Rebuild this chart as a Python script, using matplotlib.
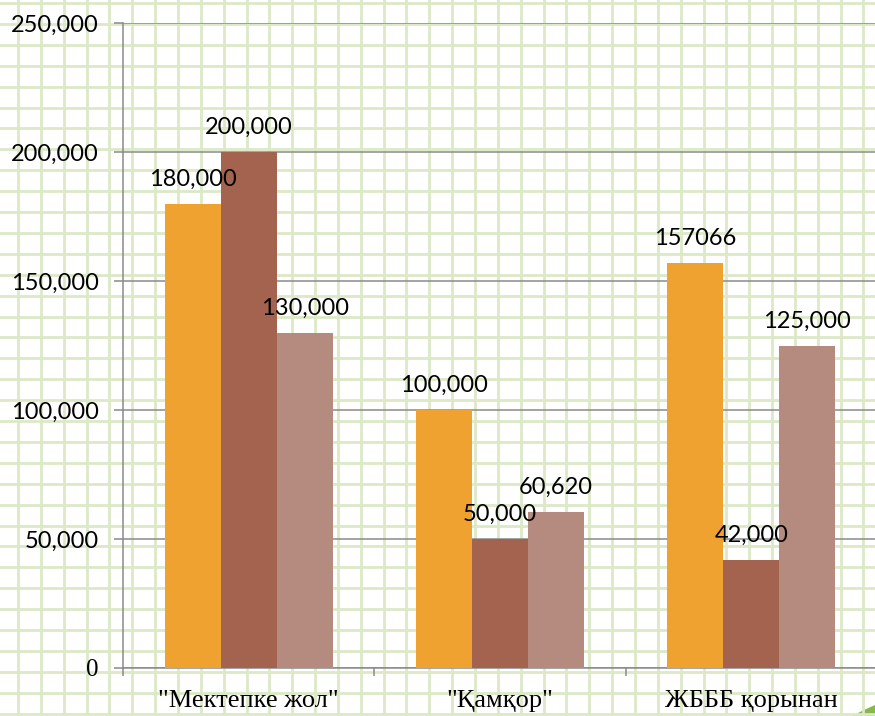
import matplotlib
matplotlib.use("Agg")
import matplotlib.pyplot as plt
import numpy as np
from matplotlib.patches import Polygon

# data
categories = ['"Мектепке жол"', '"Қамқор"', 'ЖБББ қорынан']
series_a = [180000, 100000, 157066]
series_b = [200000, 50000, 42000]
series_c = [130000, 60620, 125000]
labels_a = ["180,000", "100,000", "157066"]
labels_b = ["200,000", "50,000", "42,000"]
labels_c = ["130,000", "60,620", "125,000"]
yticks = [0, 50000, 100000, 150000, 200000, 250000]
ytick_labels = ["0", "50,000", "100,000", "150,000", "200,000", "250,000"]

colors = ["#EFA22F", "#A4634E", "#B58A7F"]
grey = "#8a8a8a"

W, H = 875, 716
fig = plt.figure(figsize=(W / 100, H / 100), dpi=100)
fig.patch.set_facecolor("white")

# graph-paper background
bg = fig.add_axes([0, 0, 1, 1], zorder=-5)
bg.set_xlim(0, W)
bg.set_ylim(H, 0)
bg.axis("off")
for x in np.arange(18 - 22.85, W + 23, 22.85):
    bg.axvline(x, color="#dde8c6", lw=2.0)
for y in np.arange(3, H + 21, 20.9):
    bg.axhline(y, color="#dde8c6", lw=2.0)
# bit of the slide decoration in the bottom-right corner
bg.add_patch(Polygon([(852, 716), (864, 710), (875, 705), (875, 716)], closed=True,
                     facecolor="#86b84a", edgecolor="none"))

ax = fig.add_axes([123 / W, 48 / H, (877 - 123) / W, (668 - 23) / H])
ax.patch.set_alpha(0)

x = np.arange(len(categories))
w = 0.223
b1 = ax.bar(x - w, series_a, w, color=colors[0], zorder=3)
b2 = ax.bar(x, series_b, w, color=colors[1], zorder=3)
b3 = ax.bar(x + w, series_c, w, color=colors[2], zorder=3)

ax.bar_label(b1, labels=labels_a, padding=10, fontfamily="Lato", fontsize=17)
ax.bar_label(b2, labels=labels_b, padding=10, fontfamily="Lato", fontsize=17)
ax.bar_label(b3, labels=labels_c, padding=10, fontfamily="Lato", fontsize=17)

ax.set_xlim(-0.5, 2.5)
ax.set_ylim(0, 250000)

ax.set_yticks(yticks)
ax.set_yticklabels(ytick_labels, fontfamily="Lato", fontsize=17)
zero = ax.yaxis.get_ticklabels()[0]
zero.set_fontfamily("Liberation Serif")
zero.set_fontsize(18)
ax.tick_params(axis="y", direction="out", length=6.5, width=1.1, color=grey, pad=11)
ax.yaxis.grid(True, color=grey, lw=1.1, zorder=1)
ax.set_axisbelow(True)

ax.set_xticks([-0.5, 0.5, 1.5, 2.5])
ax.set_xticklabels([])
ax.set_xticks(x, minor=True)
ax.set_xticklabels(categories, minor=True, fontfamily="Liberation Serif", fontsize=19)
ax.tick_params(axis="x", which="major", direction="out", length=6, width=1.1, color=grey)
ax.tick_params(axis="x", which="minor", length=0, pad=16)

for s in ["top", "right"]:
    ax.spines[s].set_visible(False)
for s in ["left", "bottom"]:
    ax.spines[s].set_color(grey)
    ax.spines[s].set_linewidth(1.1)

fig.savefig("out.png", dpi=100)
